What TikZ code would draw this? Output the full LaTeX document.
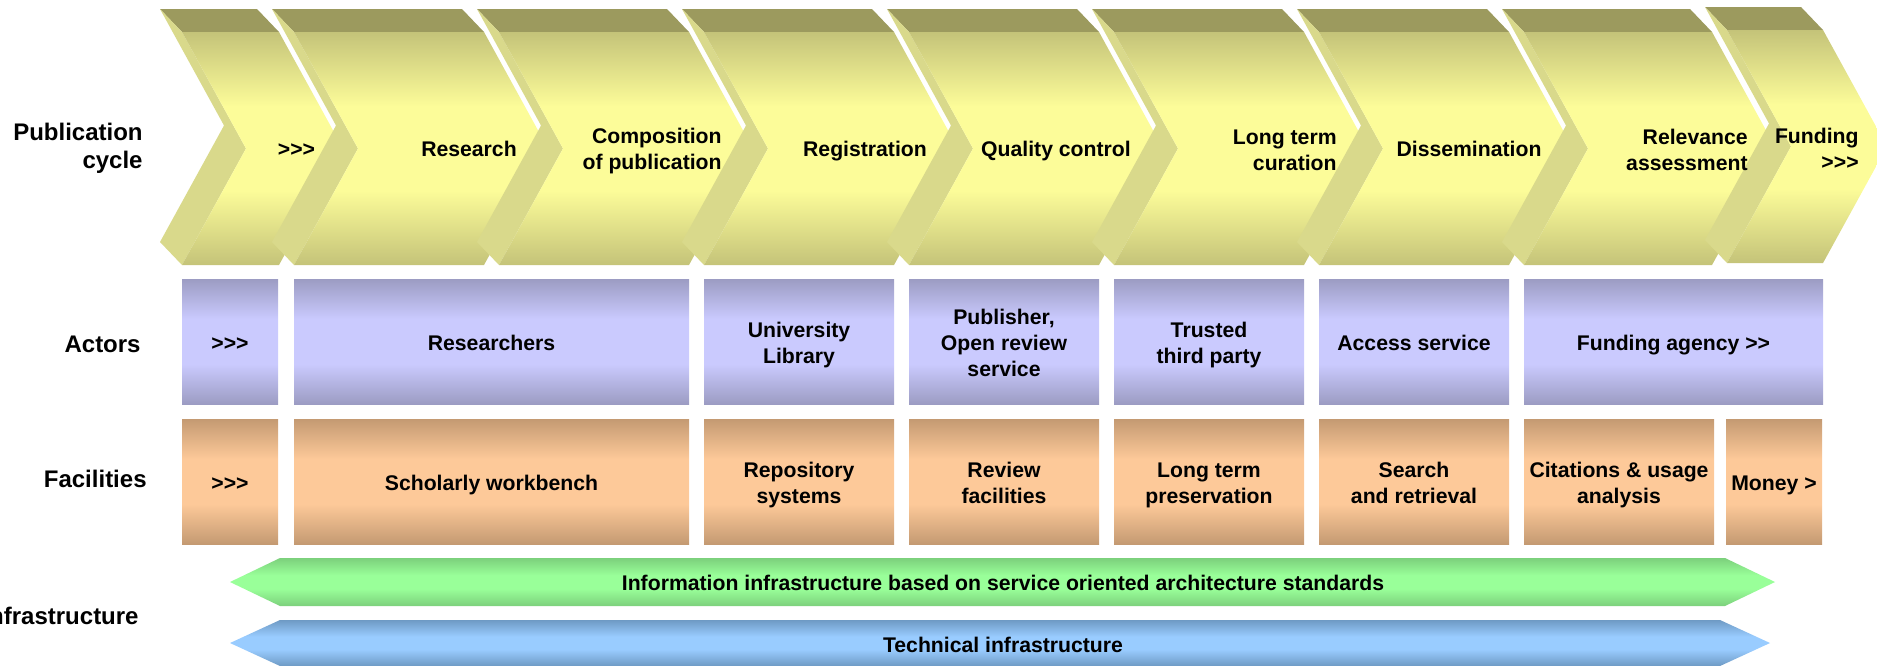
\documentclass[tikz,border=0pt]{standalone}
\usepackage{fontspec}
\setmainfont{Liberation Sans}
\definecolor{chTop}{HTML}{9C9A5E}
\definecolor{chSide}{HTML}{D9D98B}
\definecolor{chEdge}{HTML}{C4C379}
\definecolor{chMid}{HTML}{FCFC99}
\definecolor{acEdge}{HTML}{9C9CC3}
\definecolor{acMid}{HTML}{CACAFE}
\definecolor{faEdge}{HTML}{C49A72}
\definecolor{faMid}{HTML}{FDC999}
\definecolor{grEdge}{HTML}{7CD07C}
\definecolor{grMid}{HTML}{99FF99}
\definecolor{blEdge}{HTML}{6E9AC4}
\definecolor{blMid}{HTML}{99CCFF}
\pgfdeclareverticalshading{chshade}{100bp}{color(0bp)=(chEdge); color(25bp)=(chEdge); color(41bp)=(chMid); color(59bp)=(chMid); color(75bp)=(chEdge); color(100bp)=(chEdge)}
\pgfdeclareverticalshading{acshade}{100bp}{color(0bp)=(acEdge); color(25bp)=(acEdge); color(41bp)=(acMid); color(59bp)=(acMid); color(75bp)=(acEdge); color(100bp)=(acEdge)}
\pgfdeclareverticalshading{fashade}{100bp}{color(0bp)=(faEdge); color(25bp)=(faEdge); color(41bp)=(faMid); color(59bp)=(faMid); color(75bp)=(faEdge); color(100bp)=(faEdge)}
\pgfdeclareverticalshading{grshade}{100bp}{color(0bp)=(grEdge); color(25bp)=(grEdge); color(43bp)=(grMid); color(57bp)=(grMid); color(75bp)=(grEdge); color(100bp)=(grEdge)}
\pgfdeclareverticalshading{blshade}{100bp}{color(0bp)=(blEdge); color(25bp)=(blEdge); color(43bp)=(blMid); color(57bp)=(blMid); color(75bp)=(blEdge); color(100bp)=(blEdge)}
\newcommand\fChev{\fontsize{10.6}{13}\selectfont\bfseries}
\newcommand\fRow{\fontsize{12}{14}\selectfont\bfseries}
\newcommand\tp{\rule{0pt}{11.5pt}}
\newcommand\bt{\rule[-2.5pt]{0pt}{0pt}}
% #1 back-left x, #2 front top-right x
\newcommand\chevshape[2]{%
  \fill[chTop] (#1,9) -- (#2-22,9) -- (#2,32) -- (#1+22,32) -- cycle;
  \fill[chSide] (#1,9) -- (#1+64,125.5) -- (#1,242) -- (#1+22,265) -- (#1+86,148.5) -- (#1+22,32) -- cycle;
  \shade[shading=chshade] (#1+22,32) -- (#2,32) -- (#2+64,148.5) -- (#2,265) -- (#1+22,265) -- (#1+86,148.5) -- cycle;
}
\begin{document}
\begin{tikzpicture}[x=0.5pt,y=-0.5pt,
  lbl/.style={font=\fChev, inner sep=0pt, text height=7.6pt, text depth=0pt},
  lblr/.style={font=\fChev, inner sep=0pt, align=right, anchor=east},
  rowlbl/.style={font=\fRow, inner sep=0pt, align=right, anchor=east},
  rowlbl1/.style={rowlbl, text height=8.6pt, text depth=0pt},
  cell/.style={inner sep=2pt, outer sep=0pt, font=\fChev, align=center, shade, minimum height=62.5pt},
  actor/.style={cell, shading=acshade},
  facil/.style={cell, shading=fashade},
]
\useasboundingbox (0,0) rectangle (1877,665);
\clip (0,0) rectangle (1877,665);

% publication cycle chevrons
\chevshape{160}{279}
\chevshape{272}{484}
\chevshape{477}{689}
\chevshape{682}{894}
\chevshape{887}{1099}
\chevshape{1092}{1304}
\chevshape{1297}{1509}
\chevshape{1502}{1712}
\begin{scope}[yshift=1pt]
\chevshape{1705}{1823}
\end{scope}

\node[lbl] (c1) at (296.5,149) {>{}>{}>};
\node[lbl] (c2) at (469,149) {Research};
\node[lblr] (c3) at (722,151.5) {Composition\\of publication};
\node[lbl] (c4) at (865,149) {Registration};
\node[lbl] (c5) at (1056,149) {Quality control};
\node[lblr] (c6) at (1337,150) {Long term\\curation};
\node[lbl] (c7) at (1469,149) {Dissemination};
\node[lblr] (c8) at (1748,150) {Relevance\\assessment};
\node[lblr] (c9) at (1859,148.5) {Funding\\>{}>{}>};

% row labels
\node[rowlbl] (r1) at (143,148) {Publication\\cycle};
\node[rowlbl1] (r2) at (141,343.5) {Actors};
\node[rowlbl1] (r3) at (147,479) {Facilities};
\node[rowlbl1] (r4) at (139,616) {Infrastructure};

% actors
\node[actor, minimum width=48pt] (a0) at (230,341.5) {\tp>{}>{}>\bt};
\node[actor, minimum width=197.5pt] (a1) at (491.5,341.5) {\tp Researchers\bt};
\node[actor, minimum width=95pt] (a2) at (799,341.5) {\tp University\\Library\bt};
\node[actor, minimum width=95pt] (a3) at (1004,341.5) {\tp Publisher,\\Open review\\service\bt};
\node[actor, minimum width=95pt] (a4) at (1209,341.5) {\tp Trusted\\third party\bt};
\node[actor, minimum width=95pt] (a5) at (1414,341.5) {\tp Access service\bt};
\node[actor, minimum width=149.5pt] (a6) at (1673.5,341.5) {\tp Funding agency >{}>\bt};

% facilities
\node[facil, minimum width=48pt] (f0) at (230,481.5) {\tp>{}>{}>\bt};
\node[facil, minimum width=197.5pt] (f1) at (491.5,481.5) {\tp Scholarly workbench\bt};
\node[facil, minimum width=95pt] (f2) at (799,481.5) {\tp Repository\\systems\bt};
\node[facil, minimum width=95pt] (f3) at (1004,481.5) {\tp Review\\facilities\bt};
\node[facil, minimum width=95pt] (f4) at (1209,481.5) {\tp Long term\\preservation\bt};
\node[facil, minimum width=95pt] (f5) at (1414,481.5) {\tp Search\\and retrieval\bt};
\node[facil, minimum width=95pt] (f6) at (1619,481.5) {\tp Citations \& usage\\analysis\bt};
\node[facil, minimum width=48pt] (f7) at (1774,481.5) {\tp Money >\bt};

% infrastructure arrows
\shade[shading=grshade] (230,582) -- (280,558) -- (1725,558) -- (1775,582) -- (1725,606) -- (280,606) -- cycle;
\node[lbl] (i1) at (1003,583) {Information infrastructure based on service oriented architecture standards};
\shade[shading=blshade] (230,643) -- (280,620) -- (1720,620) -- (1770,643) -- (1720,666) -- (280,666) -- cycle;
\node[lbl] (i2) at (1003,645) {Technical infrastructure};
\end{tikzpicture}
\end{document}
